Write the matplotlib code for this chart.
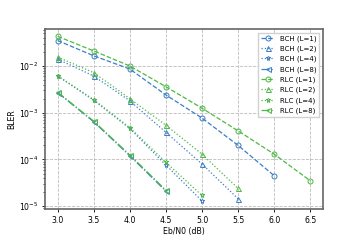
import matplotlib
matplotlib.use("Agg")
import matplotlib.pyplot as plt

ebn0_bch = [3.0, 3.5, 4.0, 4.5, 5.0, 5.5, 6.0]
ebn0_rlc = [3.0, 3.5, 4.0, 4.5, 5.0, 5.5, 6.0, 6.5]

bch_l1 = [3.5e-2, 1.65e-2, 8.6e-3, 2.4e-3, 7.7e-4, 2.0e-4, 4.5e-5]
bch_l2 = [1.4e-2, 6.1e-3, 1.8e-3, 3.8e-4, 8.0e-5, 1.45e-5]
bch_l4 = [6.1e-3, 1.85e-3, 4.6e-4, 7.6e-5, 1.3e-5]
bch_l8 = [2.7e-3, 6.4e-4, 1.2e-4, 2.1e-5]

rlc_l1 = [4.3e-2, 2.1e-2, 1.0e-2, 3.6e-3, 1.25e-3, 4.1e-4, 1.3e-4, 3.5e-5]
rlc_l2 = [1.55e-2, 7.2e-3, 2.0e-3, 5.4e-4, 1.3e-4, 2.4e-5]
rlc_l4 = [6.2e-3, 1.9e-3, 4.8e-4, 8.7e-5, 1.7e-5]
rlc_l8 = [2.75e-3, 6.6e-4, 1.25e-4, 2.2e-5]

blue = '#3a7fc6'
green = '#4cb944'
fs = 5.6

fig = plt.figure(figsize=(3.6, 2.4), dpi=100)
ax = fig.add_axes([0.125, 0.128, 0.772, 0.751])

styles = [('o', '--'), ('^', ':'), ('*', ':'), ('<', '-.')]
bch = [bch_l1, bch_l2, bch_l4, bch_l8]
rlc = [rlc_l1, rlc_l2, rlc_l4, rlc_l8]
Ls = [1, 2, 4, 8]

for (m, ls), y, L in zip(styles, bch, Ls):
    ax.semilogy(ebn0_bch[:len(y)], y, linestyle=ls, marker=m, color=blue,
                mfc='none', ms=3.6, lw=0.9, mew=0.7, label=f'BCH (L={L})')
for (m, ls), y, L in zip(styles, rlc, Ls):
    ax.semilogy(ebn0_rlc[:len(y)], y, linestyle=ls, marker=m, color=green,
                mfc='none', ms=3.6, lw=0.9, mew=0.7, label=f'RLC (L={L})')

ax.set_ylim(10**-5.065, 10**-1.21)
ax.set_xticks([3.0, 3.5, 4.0, 4.5, 5.0, 5.5, 6.0, 6.5])
ax.set_xlabel('Eb/N0 (dB)', fontsize=fs, labelpad=2)
ax.set_ylabel('BLER', fontsize=fs, labelpad=2)
ax.tick_params(labelsize=fs, length=2.5, width=0.6, pad=2)
ax.tick_params(which='minor', length=1.5, width=0.5)
ax.grid(True, which='major', linestyle='--', color='#bbbbbb', lw=0.6)
for s in ax.spines.values():
    s.set_color('#666666')
    s.set_linewidth(1.2)

ax.legend(fontsize=5, loc='upper right', handlelength=2, labelspacing=0.55,
          borderpad=0.4, framealpha=0.9, fancybox=False, edgecolor='#cccccc')

fig.savefig('out.png', dpi=100)
